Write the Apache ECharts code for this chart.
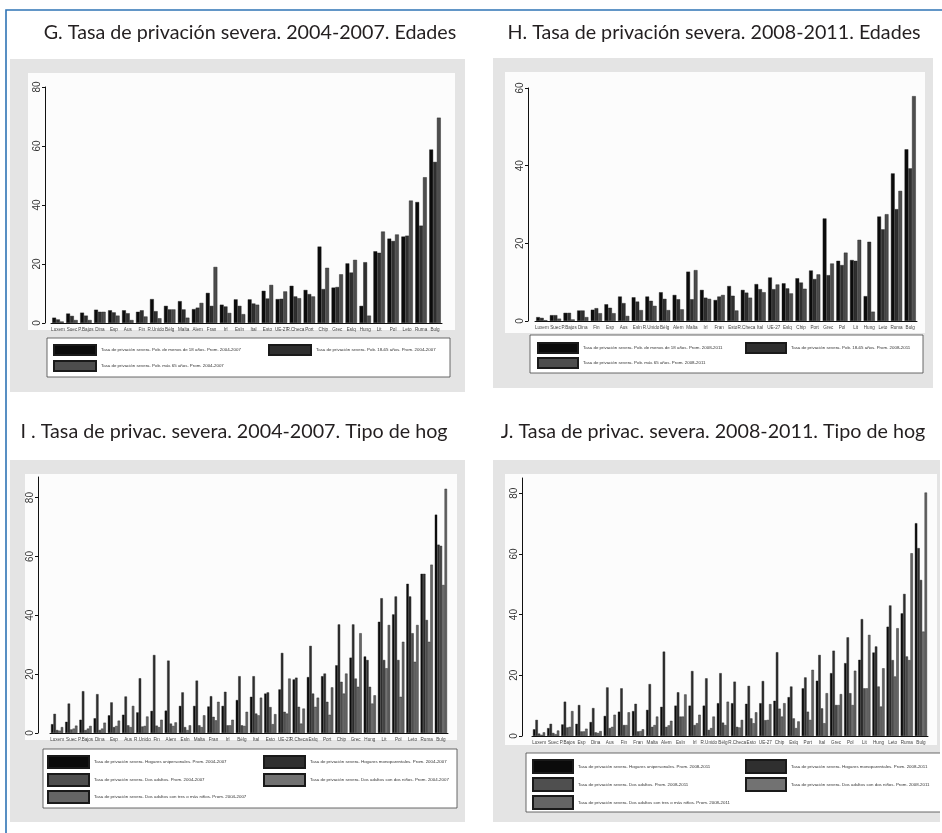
<!DOCTYPE html>
<html>
<head>
<meta charset="utf-8">
<script src="https://cdn.jsdelivr.net/npm/echarts@6/dist/echarts.min.js"></script>
<style>
  html, body { margin: 0; padding: 0; background: #fff; }
  #page { position: relative; width: 942px; height: 833px; overflow: hidden; }
  #bg { position: absolute; left: 0; top: 0; width: 942px; height: 833px; }
  .panel { position: absolute; background: #e4e4e4; filter: blur(0.5px); }
</style>
</head>
<body>
<div id="page">
  <div id="bg"></div>
  <div id="pG" class="panel" style="left:10px;top:59px;width:455px;height:333px"></div>
  <div id="pH" class="panel" style="left:493px;top:58px;width:440px;height:330px"></div>
  <div id="pI" class="panel" style="left:10px;top:460px;width:455px;height:362px"></div>
  <div id="pJ" class="panel" style="left:493px;top:460px;width:447px;height:362px"></div>
</div>
<script>
// ---- Panel titles ----
const titles = [
  'G. Tasa de privación severa. 2004-2007. Edades',
  'H. Tasa de privación severa. 2008-2011. Edades',
  'I . Tasa de privac. severa. 2004-2007. Tipo de hog',
  'J. Tasa de privac. severa. 2008-2011. Tipo de hog'
];

// ---- G: severe deprivation by age, 2004-2007 ----
const catsG = ['Luxem','Suec','P.Bajos','Dina','Esp','Aus','Fin','R.Unido','Bélg','Malta','Alem','Fran','Irl','Esln',
  'Ital','Esto','UE-27','R.Checa','Port','Chip','Grec','Eslq','Hung','Lit','Pol','Leto','Ruma','Bulg'];
const gMenores18 = [1.8,3.2,3.5,4.5,4.3,4.3,3.8,8.1,5.8,7.4,4.7,10.2,6.2,8.0,8.0,10.9,8.1,12.6,11.2,25.9,12.0,20.2,5.8,24.3,28.6,29.3,41.0,58.8];
const g18a65 = [1.2,2.4,2.5,3.8,3.6,3.3,4.3,4.0,4.6,4.6,5.2,5.8,5.6,5.8,6.6,8.3,8.2,9.0,9.8,11.5,12.2,17.1,20.6,23.8,27.8,29.6,33.0,54.6];
const gMas65 = [0.5,1.0,1.0,3.8,2.5,1.0,2.2,1.6,4.6,1.8,6.8,19.0,3.4,3.0,6.2,12.9,10.7,8.4,9.0,18.7,16.5,21.4,2.5,31.0,30.0,41.5,49.4,69.6];

// ---- H: severe deprivation by age, 2008-2011 ----
const catsH = ['Luxem','Suec','P.Bajos','Dina','Fin','Esp','Aus','Esln','R.Unido','Bélg','Alem','Malta','Irl','Fran',
  'Esto','R.Checa','Ital','UE-27','Eslq','Chip','Port','Grec','Pol','Lit','Hung','Leto','Ruma','Bulg'];
const hMenores18 = [1.0,1.5,2.1,2.7,2.9,4.3,6.3,6.1,6.3,7.4,6.7,12.7,8.0,5.4,9.0,8.0,9.5,11.2,9.7,11.0,13.0,26.4,15.5,15.7,6.4,26.9,38.0,44.2];
const h18a65 = [0.8,1.5,2.1,2.7,3.3,3.4,4.6,5.0,5.2,5.7,5.6,5.6,6.0,6.3,6.5,7.3,8.2,8.2,8.4,9.9,10.8,11.8,14.4,15.5,20.4,23.6,28.8,39.3];
const hMas65 = [0.2,0.6,0.4,1.0,2.0,2.0,1.3,2.8,3.9,2.8,3.0,13.1,5.7,6.7,2.7,6.0,7.4,9.4,7.1,8.3,12.0,14.8,17.6,20.9,2.4,27.5,33.5,57.9];

// ---- I: severe deprivation by household type, 2004-2007 ----
const catsI = ['Luxem','Suec','P.Bajos','Dina','Esp','Aus','R.Unido','Fin','Alem','Esln','Malta','Fran','Irl','Bélg',
  'Ital','Esto','UE-27','R.Checa','Eslq','Port','Chip','Grec','Hung','Lit','Pol','Leto','Ruma','Bulg'];
const iUnipersonal = [3.0,3.8,4.5,5.0,6.0,6.2,7.0,7.5,7.6,9.2,9.2,9.0,9.2,11.2,12.3,13.4,14.8,18.2,19.0,19.3,23.0,25.6,26.0,37.8,40.3,50.7,54.1,74.2];
const iMonoparental = [6.5,10.0,14.2,13.2,10.4,12.4,18.6,26.5,24.6,13.8,17.8,12.5,14.0,19.3,19.3,13.8,27.2,18.8,29.6,20.2,36.9,36.9,24.8,45.8,46.4,46.4,54.1,64.0];
const iDosAdultos = [1.0,1.2,1.0,1.0,2.0,2.6,2.2,2.5,3.2,2.0,2.6,5.5,2.6,2.6,6.6,8.8,7.2,8.9,13.4,10.6,17.4,18.5,15.7,24.8,24.8,33.9,38.4,63.6];
const iDosNinos = [0.8,1.5,1.5,1.5,2.4,2.0,2.4,2.0,2.4,1.0,2.0,4.3,2.6,2.4,6.0,3.0,6.6,3.2,8.9,6.2,13.4,15.7,10.0,22.0,12.3,24.2,31.0,50.3];
const iTresNinos = [2.0,2.5,2.4,3.5,4.2,9.2,5.6,4.5,3.6,2.6,6.0,10.6,4.5,7.2,12.0,6.4,18.5,8.3,12.0,15.5,20.2,33.9,12.8,36.7,31.0,36.7,57.2,83.0];

// ---- J: severe deprivation by household type, 2008-2011 ----
const catsJ = ['Luxem','Suec','P.Bajos','Esp','Dina','Aus','Fin','Fran','Malta','Alem','Esln','Irl','R.Unido','Bélg',
  'R.Checa','Esto','UE-27','Chip','Eslq','Port','Ital','Grec','Pol','Lit','Hung','Leto','Ruma','Bulg'];
const jUnipersonal = [2.2,2.6,3.8,4.0,4.6,6.6,8.0,8.2,8.6,9.6,10.0,10.0,10.0,10.8,10.8,10.6,10.8,11.6,12.8,15.7,18.2,20.7,24.0,25.1,27.5,36.0,40.4,70.1];
const jMonoparental = [5.3,4.0,11.3,10.2,9.2,16.0,15.7,10.6,17.1,27.8,14.4,21.4,19.0,20.7,17.9,16.5,18.1,27.6,16.3,19.3,26.7,28.1,32.5,38.5,29.5,43.0,46.8,61.9];
const jDosAdultos = [0.8,1.0,2.8,1.5,1.2,2.6,3.6,1.5,3.0,3.0,6.4,3.6,2.0,4.4,3.0,5.8,5.2,9.0,5.8,8.0,9.1,10.2,14.1,15.7,16.3,25.0,26.2,51.4];
const jDosNinos = [0.4,0.6,3.0,1.5,1.0,3.0,3.6,1.6,3.6,3.5,6.4,4.2,2.6,3.6,2.8,4.2,5.3,6.4,2.6,5.3,4.2,10.2,10.2,15.7,9.7,19.6,25.0,34.4];
const jTresNinos = [1.2,1.8,8.2,2.4,1.6,7.0,7.8,2.2,6.4,5.0,13.7,7.0,6.4,11.3,5.3,7.8,10.5,10.8,4.8,21.8,14.1,13.8,21.5,33.3,22.3,35.5,60.2,80.2];

// ---- Axis tick values ----
const ticks80 = [0, 20, 40, 60, 80];
const ticks60 = [0, 20, 40, 60];

// ---- Legend labels ----
const legendG = [
  'Tasa de privación severa. Pob. de menos de 18 años. Prom. 2004-2007',
  'Tasa de privación severa. Pob. 18-65 años. Prom. 2004-2007',
  'Tasa de privación severa. Pob. más 65 años. Prom. 2004-2007'
];
const legendH = [
  'Tasa de privación severa. Pob. de menos de 18 años. Prom. 2008-2011',
  'Tasa de privación severa. Pob. 18-65 años. Prom. 2008-2011',
  'Tasa de privación severa. Pob. más 65 años. Prom. 2008-2011'
];
const legendI = [
  'Tasa de privación severa. Hogares unipersonales. Prom. 2004-2007',
  'Tasa de privación severa. Hogares monoparentales. Prom. 2004-2007',
  'Tasa de privación severa. Dos adultos. Prom. 2004-2007',
  'Tasa de privación severa. Dos adultos con dos niños. Prom. 2004-2007',
  'Tasa de privación severa. Dos adultos con tres o más niños. Prom. 2004-2007'
];
const legendJ = [
  'Tasa de privación severa. Hogares unipersonales. Prom. 2008-2011',
  'Tasa de privación severa. Hogares monoparentales. Prom. 2008-2011',
  'Tasa de privación severa. Dos adultos. Prom. 2008-2011',
  'Tasa de privación severa. Dos adultos con dos niños. Prom. 2008-2011',
  'Tasa de privación severa. Dos adultos con tres o más niños. Prom. 2008-2011'
];

const shades3 = ['#0b0b0b', '#2f2f2f', '#4d4d4d'];
const shades5 = ['#0b0b0b', '#2f2f2f', '#4f4f4f', '#727272', '#656565'];

// ---- Background: frame and panel titles ----
const bg = echarts.init(document.getElementById('bg'));
const titleFont = { fontFamily: 'Lato', fontSize: 19.7, fill: '#231f20' };
bg.setOption({
  animation: false,
  graphic: [
    { type: 'rect', shape: { x: 6, y: 10, width: 945, height: 840 }, style: { fill: 'none', stroke: '#2f74b5', lineWidth: 1.6 } },
    { type: 'text', x: 250, y: 33, style: Object.assign({ text: titles[0], align: 'center', verticalAlign: 'middle' }, titleFont) },
    { type: 'text', x: 714, y: 33, style: Object.assign({ text: titles[1], align: 'center', verticalAlign: 'middle' }, titleFont) },
    { type: 'text', x: 234, y: 432, style: Object.assign({ text: titles[2], align: 'center', verticalAlign: 'middle' }, titleFont) },
    { type: 'text', x: 713, y: 432, style: Object.assign({ text: titles[3], align: 'center', verticalAlign: 'middle' }, titleFont) }
  ]
});

// ---- One Stata-style grouped bar panel ----
function drawPanel(id, cfg) {
  const chart = echarts.init(document.getElementById(id));
  const series = cfg.series.map((vals, k) => ({
    name: cfg.names[k],
    type: 'bar',
    data: vals,
    barGap: '0%',
    barCategoryGap: cfg.catGap,
    itemStyle: { color: cfg.colors[k], borderColor: '#1a1a1a', borderWidth: 0.4 }
  }));
  const legends = cfg.names.map((n, k) => ({
    data: [n],
    left: cfg.legendPos[k][0],
    top: cfg.legendPos[k][1],
    padding: 0,
    itemWidth: cfg.swatch[0],
    itemHeight: cfg.swatch[1],
    icon: 'rect',
    selectedMode: false,
    textStyle: { fontSize: 4.4, color: '#333', fontFamily: 'Liberation Sans' }
  }));
  chart.setOption({
    animation: false,
    graphic: [
      { type: 'rect', z: -10, shape: cfg.plotBox, style: { fill: '#fcfcfc' } },
      { type: 'rect', z: -5, shape: cfg.legendBox, style: { fill: '#ffffff', stroke: '#444', lineWidth: 0.8 } }
    ],
    legend: legends,
    grid: { left: cfg.grid[0], top: cfg.grid[1], width: cfg.grid[2], height: cfg.grid[3] },
    xAxis: {
      type: 'category',
      data: cfg.cats,
      axisLine: { lineStyle: { color: '#111', width: 1 } },
      axisTick: { show: false },
      axisLabel: { interval: 0, fontSize: 4.6, color: '#444', margin: 4, fontFamily: 'Liberation Sans' }
    },
    yAxis: {
      type: 'value',
      min: 0,
      max: cfg.yMax,
      offset: cfg.yOffset,
      splitLine: { show: false },
      axisLine: { show: true, lineStyle: { color: '#111', width: 1 } },
      axisTick: { show: true, length: 3, customValues: cfg.ticks, lineStyle: { color: '#111' } },
      axisLabel: { customValues: cfg.ticks, rotate: 90, fontSize: 10, color: '#333', margin: 3, fontFamily: 'Liberation Sans' }
    },
    series: series
  });
}

drawPanel('pG', {
  cats: catsG, series: [gMenores18, g18a65, gMas65], names: legendG, colors: shades3,
  grid: [41, 28, 391, 236], yMax: 80, ticks: ticks80, yOffset: 6, catGap: '18%',
  plotBox: { x: 18, y: 14, width: 427, height: 257 },
  legendBox: { x: 37, y: 279, width: 403, height: 39 },
  legendPos: [[43, 285], [258, 285], [43, 301]], swatch: [42, 10]
});

drawPanel('pH', {
  cats: catsH, series: [hMenores18, h18a65, hMas65], names: legendH, colors: shades3,
  grid: [42, 30, 382, 233], yMax: 60, ticks: ticks60, yOffset: 7, catGap: '18%',
  plotBox: { x: 12, y: 14, width: 420, height: 261 },
  legendBox: { x: 37, y: 277, width: 393, height: 38 },
  legendPos: [[44, 284], [252, 284], [44, 299]], swatch: [40, 10]
});

drawPanel('pI', {
  cats: catsI, series: [iUnipersonal, iMonoparental, iDosAdultos, iDosNinos, iTresNinos], names: legendI, colors: shades5,
  grid: [40, 17, 398, 256], yMax: 87, ticks: ticks80, yOffset: 12, catGap: '14%',
  plotBox: { x: 15, y: 14, width: 432, height: 266 },
  legendBox: { x: 33, y: 289, width: 414, height: 59 },
  legendPos: [[37, 295], [253, 295], [37, 313], [253, 313], [37, 330]], swatch: [41, 12]
});

drawPanel('pJ', {
  cats: catsJ, series: [jUnipersonal, jMonoparental, jDosAdultos, jDosNinos, jTresNinos], names: legendJ, colors: shades5,
  grid: [39, 18, 396, 258], yMax: 85, ticks: ticks80, yOffset: 10, catGap: '14%',
  plotBox: { x: 12, y: 14, width: 432, height: 271 },
  legendBox: { x: 33, y: 293, width: 420, height: 59 },
  legendPos: [[39, 299], [252, 299], [39, 317], [252, 317], [39, 335]], swatch: [40, 13]
});
</script>
</body>
</html>
